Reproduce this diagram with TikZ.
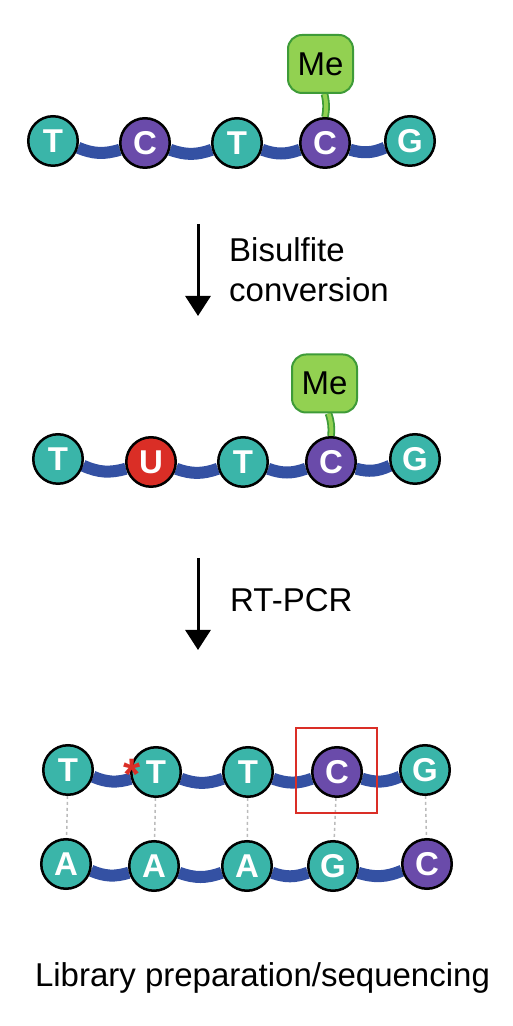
\documentclass[tikz,border=0pt]{standalone}
\usepackage{fontspec}
\setmainfont{Liberation Sans}
\usepackage{tikz}
\usetikzlibrary{positioning,arrows.meta,backgrounds}

\definecolor{baseteal}{HTML}{3AB5A9}
\definecolor{basepurple}{HTML}{6A4BAA}
\definecolor{basered}{HTML}{DA2E26}
\definecolor{bandblue}{HTML}{3451A3}
\definecolor{mefill}{HTML}{92D151}
\definecolor{meedge}{HTML}{3E9B38}
\definecolor{pairgray}{HTML}{BBBBBB}

\tikzset{
 nuc/.style={circle,draw=black,line width=2.5pt,minimum size=49.5pt,inner sep=0pt,text=white,font=\fontsize{33}{33}\selectfont\bfseries},
 nt/.style={nuc,fill=baseteal},
 nc/.style={nuc,fill=basepurple},
 nu/.style={nuc,fill=basered},
 link/.style={draw=bandblue,line width=12pt},
 mebox/.style={draw=meedge,fill=mefill,line width=2pt,rounded corners=14pt,minimum width=65pt,minimum height=58pt,inner sep=0pt,font=\fontsize{33}{33}\selectfont},
 stem/.style={draw=meedge,double=mefill,double distance=4pt,line width=1.8pt},
 flow/.style={line width=3pt,-{Triangle[width=25pt,length=20pt]}},
 pair/.style={draw=pairgray,dashed,line width=1.5pt},
 proc/.style={font=\fontsize{33}{40}\selectfont,inner sep=0pt,align=left}
}

\begin{document}
\begin{tikzpicture}[x=1pt,y=1pt]
 \useasboundingbox (0,0) rectangle (512,1026);

 % original strand
 \node[nt] (s1) at (53,885) {T};
 \node[nc] (s2) at (145,883) {C};
 \node[nt] (s3) at (237,883) {T};
 \node[nc] (s4) at (325,883) {C};
 \node[nt] (s5) at (410,885) {G};
 \node[mebox] (me1) at (320.5,962) {Me};

 % after bisulfite
 \node[nt] (b1) at (58,567) {T};
 \node[nu] (b2) at (151,564) {U};
 \node[nt] (b3) at (243,564) {T};
 \node[nc] (b4) at (331,564) {C};
 \node[nt] (b5) at (415,567) {G};
 \node[mebox] (me2) at (324.5,642.5) {Me};

 % after RT-PCR
 \node[nt] (p1) at (68,256) {T};
 \node[nt] (p2) at (156,254) {T};
 \node[nt] (p3) at (248,254) {T};
 \node[nc] (p4) at (337,254) {C};
 \node[nt] (p5) at (425,256) {G};

 \node[nt] (q1) at (66,162) {A};
 \node[nt] (q2) at (154,160) {A};
 \node[nt] (q3) at (247,160) {A};
 \node[nt] (q4) at (333,160) {G};
 \node[nc] (q5) at (427,162) {C};

 \begin{pgfonlayer}{background}
  \draw[link] (s1.-15) to[bend right=20] (s2.195);
  \draw[link] (s2.-15) to[bend right=20] (s3.195);
  \draw[link] (s3.-15) to[bend right=20] (s4.195);
  \draw[link] (s4.-15) to[bend right=20] (s5.195);
  \draw[stem] ([xshift=4pt]me1.south) to[bend left=12] (s4.north);

  \draw[link] (b1.-15) to[bend right=20] (b2.195);
  \draw[link] (b2.-15) to[bend right=20] (b3.195);
  \draw[link] (b3.-15) to[bend right=20] (b4.195);
  \draw[link] (b4.-15) to[bend right=20] (b5.195);
  \draw[stem] ([xshift=4pt]me2.south) to[bend left=12] (b4.north);

  \draw[link] (p1.-15) to[bend right=20] (p2.195);
  \draw[link] (p2.-15) to[bend right=20] (p3.195);
  \draw[link] (p3.-15) to[bend right=20] (p4.195);
  \draw[link] (p4.-15) to[bend right=20] (p5.195);

  \draw[link] (q1.-15) to[bend right=20] (q2.195);
  \draw[link] (q2.-15) to[bend right=20] (q3.195);
  \draw[link] (q3.-15) to[bend right=20] (q4.195);
  \draw[link] (q4.-15) to[bend right=20] (q5.195);

  \draw[pair] (p1) -- (q1);
  \draw[pair] (p2) -- (q2);
  \draw[pair] (p3) -- (q3);
  \draw[pair] (p4) -- (q4);
  \draw[pair] (p5) -- (q5);
 \end{pgfonlayer}

 \node[draw=basered,line width=2pt,minimum width=81pt,minimum height=85pt,inner sep=0pt] (hl) at (336.5,255.5) {};
 \node[text=basered,font=\fontsize{44}{44}\selectfont\bfseries,inner sep=0pt] (ast) at (132,252) {*};

 % steps
 \coordinate (a1top) at (198,802);
 \coordinate (a1tip) at (198,710);
 \draw[flow] (a1top) -- (a1tip);
 \node[proc,anchor=base west] (bis) at (229,724) {Bisulfite\\conversion};

 \coordinate (a2top) at (198,468);
 \coordinate (a2tip) at (198,376);
 \draw[flow] (a2top) -- (a2tip);
 \node[proc,anchor=base west] (rt) at (230,414) {RT-PCR};

 \node[proc,anchor=base] (lib) at (262.5,39) {Library preparation/sequencing};
\end{tikzpicture}
\end{document}
